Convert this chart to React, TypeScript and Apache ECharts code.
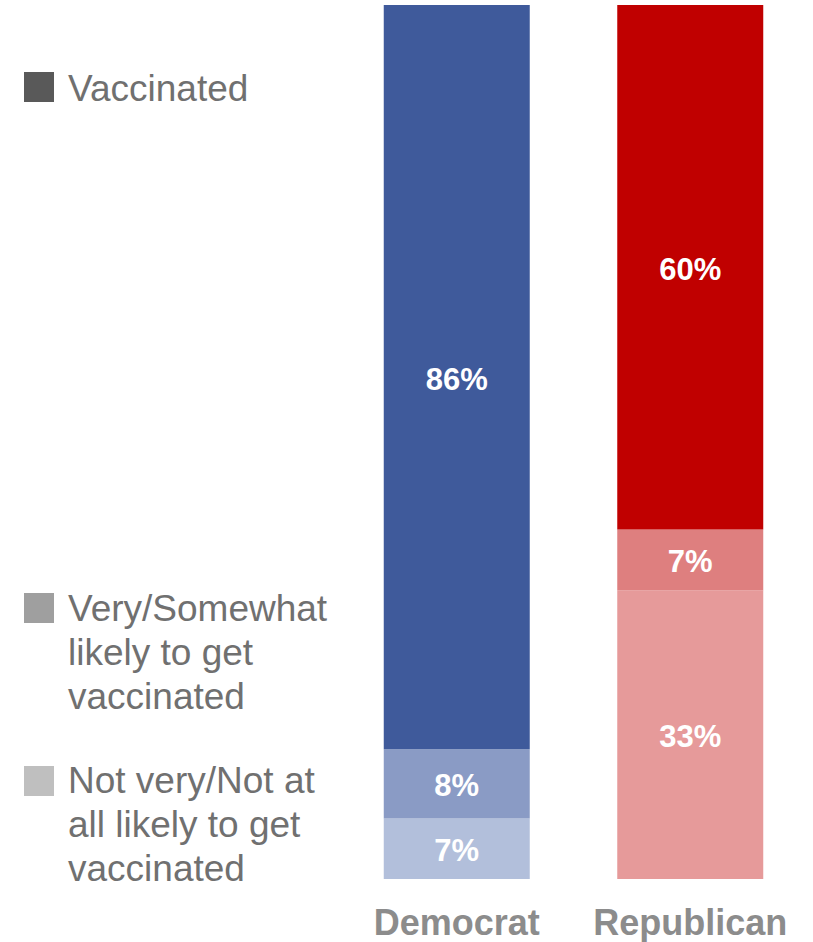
import React, { useEffect, useRef } from "react";
import * as echarts from "echarts";

const categories = ["Democrat", "Republican"];
const vaccinated = [86, 60];
const likely = [8, 7];
const notLikely = [7, 33];

const legendLabels = [
  "Vaccinated",
  "Very/Somewhat\nlikely to get\nvaccinated",
  "Not very/Not at\nall likely to get\nvaccinated",
];

const topColors = ["#3F5A9B", "#C00000"];
const midColors = ["#8A9BC5", "#DE7F7F"];
const lowColors = ["#B2BFDB", "#E69A9A"];
const legendColors = ["#595959", "#9F9F9F", "#BFBFBF"];

export default function App() {
  const ref = useRef<HTMLDivElement>(null);
  useEffect(() => {
    if (!ref.current) return;
    const chart = echarts.init(ref.current, null, { renderer: "svg" });
    const totals = categories.map((_, i) => vaccinated[i] + likely[i] + notLikely[i]);
    const font = "Liberation Sans, Arial, sans-serif";
    const mk = (name: string, vals: number[], colors: string[]) => ({
      name,
      type: "bar",
      stack: "s",
      barWidth: 146,
      data: vals.map((v, i) => ({
        value: (v / totals[i]) * 100,
        itemStyle: { color: colors[i] },
      })),
      label: {
        show: true,
        position: "inside",
        offset: [0, 2],
        color: "#FFFFFF",
        fontFamily: font,
        fontWeight: "bold",
        fontSize: 31,
        formatter: (p: any) => `${vals[p.dataIndex]}%`,
      },
    });
    const legendTops = [72, 593, 766];
    const legendTextTops = [66, 586, 758];
    const graphic: any[] = [];
    legendLabels.forEach((t, i) => {
      graphic.push({
        type: "rect",
        left: 24,
        top: legendTops[i],
        shape: { width: 30, height: 30 },
        style: { fill: legendColors[i] },
      });
      graphic.push({
        type: "text",
        left: 68,
        top: legendTextTops[i],
        style: {
          text: t,
          fill: "#707070",
          font: `37px ${font}`,
          lineHeight: 44,
        },
      });
    });
    chart.setOption({
      animation: false,
      grid: { left: 340, right: 6, top: 5, bottom: 63, containLabel: false },
      xAxis: {
        type: "category",
        data: categories,
        axisLine: { show: false },
        axisTick: { show: false },
        axisLabel: {
          interval: 0,
          color: "#8C8C8C",
          fontFamily: font,
          fontWeight: "bold",
          fontSize: 36,
          margin: 25,
          hideOverlap: false,
        },
      },
      yAxis: {
        type: "value",
        min: 0,
        max: 100,
        show: false,
        splitLine: { show: false },
      },
      series: [
        mk("Not very/Not at all likely to get vaccinated", notLikely, lowColors),
        mk("Very/Somewhat likely to get vaccinated", likely, midColors),
        mk("Vaccinated", vaccinated, topColors),
      ],
      graphic,
    });
    return () => chart.dispose();
  }, []);
  return (
    <div
      ref={ref}
      style={{ position: "absolute", left: 0, top: 0, width: 813, height: 942 }}
    />
  );
}
